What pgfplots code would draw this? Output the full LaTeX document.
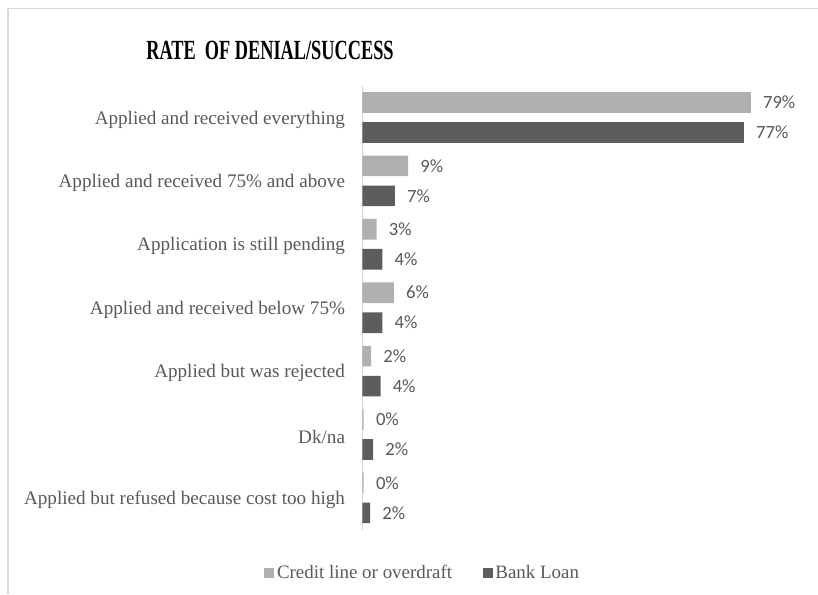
\documentclass[border=0pt]{standalone}
\usepackage{fontspec}
\setmainfont{Liberation Serif}
\newfontfamily\calibri{Carlito}
\usepackage{graphicx}
\usepackage{pgfplots}
\pgfplotsset{compat=1.18}
\definecolor{lightbar}{HTML}{B0B0B0}
\definecolor{darkbar}{HTML}{5D5D5D}
\definecolor{txtgray}{HTML}{595959}
\definecolor{framegray}{HTML}{D9D9D9}
\begin{document}
\begin{tikzpicture}
\useasboundingbox (0pt,0pt) rectangle (613.5pt,445.5pt);
\draw[framegray, line width=1.1pt] (6pt,0pt) -- (6pt,439.1pt) -- (613.5pt,439.1pt);
\node[anchor=base, font=\bfseries\fontsize{20.8}{24}\selectfont] at (202.5pt,400.5pt)
  {\scalebox{0.66}[1]{RATE\ \ OF DENIAL/SUCCESS}};
\begin{axis}[
  at={(271.7pt,48.3pt)}, anchor=south west,
  scale only axis, width=332.8pt, height=332.85pt,
  xbar, bar width=15.5pt,
  xmin=0, xmax=90, ymin=-0.5, ymax=6.5,
  axis x line=none, axis y line*=left,
  y axis line style={draw=framegray, line width=0.8pt, -},
  ytick={0,...,6}, major tick length=0pt,
  yticklabels={Applied but refused because cost too high, Dk/na, Applied but was rejected, Applied and received below 75\%, Application is still pending, Applied and received 75\% and above, Applied and received everything},
  y tick label style={font=\fontsize{14.35}{16}\selectfont, text=txtgray, inner sep=0pt, xshift=-12.75pt, yshift=-1.5pt},
  point meta=x,
  nodes near coords={\pgfmathprintnumber[fixed,precision=0,assume math mode=true]{\pgfplotspointmeta}\%},
  every node near coord/.append style={font=\calibri\fontsize{14}{16}\selectfont, text=txtgray, inner sep=0pt, xshift=9pt, anchor=west},
  legend columns=2,
  legend style={at={(0.137,-0.097)}, anchor=center, draw=none, fill=none,
    font=\fontsize{14.2}{16}\selectfont, text=txtgray,
    /tikz/every even column/.append style={column sep=21pt}},
  legend image code/.code={\fill[#1] (0pt,-3.75pt) rectangle (7.5pt,3.75pt);},
]
\addplot[fill=lightbar, draw=none, bar shift=11.25pt] coordinates {
  (0.3,0) (0.3,1) (1.8,2) (6.4,3) (2.9,4) (9.3,5) (78.8,6)
};
\addlegendentry{Credit line or overdraft}
\addplot[fill=darkbar, draw=none, bar shift=-11.25pt] coordinates {
  (1.6,0) (2.2,1) (3.7,2) (4.1,3) (4.1,4) (6.6,5) (77.4,6)
};
\addlegendentry{Bank Loan}
\end{axis}
\end{tikzpicture}
\end{document}
